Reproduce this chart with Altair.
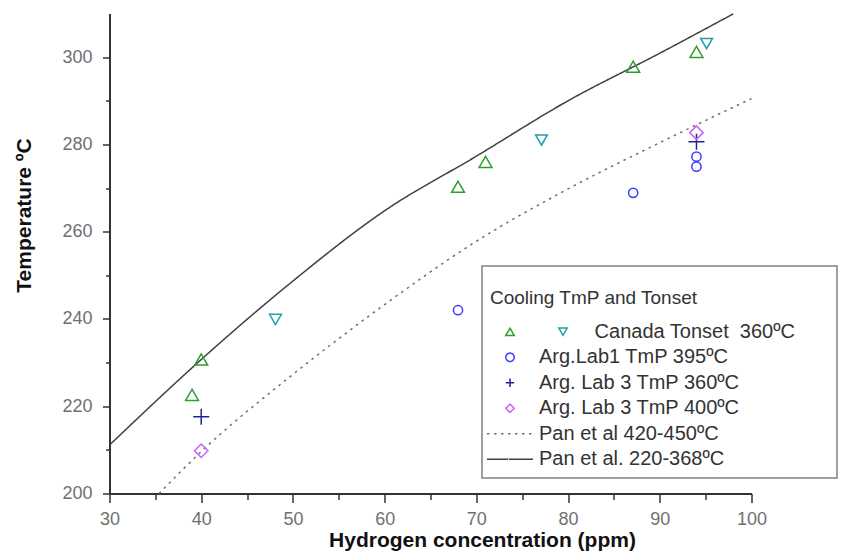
import altair as alt
import pandas as pd

# ---------------- data ----------------
nb = "\u00a0"
zw = "\u200b"  # keeps the padding from being trimmed
# legend text of the Canada entry (padded so that the second symbol fits before it)
canada_text = zw + nb * 10 + "Canada Tonset" + nb + " 360ºC" + nb * 6 + zw
series_names = [
    canada_text,
    "Arg.Lab1 TmP 395ºC",
    "Arg. Lab 3 TmP 360ºC",
    "Arg. Lab 3 TmP 400ºC",
    "Pan et al 420-450ºC",
    "Pan et al. 220-368ºC",
]
down_name = "Canada Tonset (down)"

canada_up_x = [39, 40, 68, 71, 87.1, 94]
canada_up_y = [222.6, 230.7, 270.3, 276, 297.8, 301.2]
canada_down_x = [48.1, 77.1, 95.1]
canada_down_y = [239.9, 281, 303.1]
lab1_x = [68, 87.1, 94, 94]
lab1_y = [242, 268.9, 277.2, 274.9]
lab3_360_x = [40, 94]
lab3_360_y = [217.6, 280.6]
lab3_400_x = [40, 94]
lab3_400_y = [209.8, 282.7]
pan_hi_x = [35.4, 40, 50, 60, 70, 80, 90, 100]
pan_hi_y = [200, 209.6, 227.3, 243.3, 257.8, 269.8, 280.4, 290.5]
pan_lo_x = [30, 40, 50, 60, 70, 80, 90, 98]
pan_lo_y = [211.1, 230.7, 248.7, 264.8, 277.3, 290.0, 300.9, 309.9]

x_ticks = list(range(30, 101, 5))
y_ticks = list(range(200, 301, 10))

# ---------------- styles ----------------
FONT = "Liberation Sans, Arial, Helvetica, sans-serif"
colors = ["#2e9e2e", "#3c3cff", "#20209c", "#c864f0", "#707070", "#404040"]
cyan = "#20a0a8"
PLUS = "M-1,0H1M0,-1V1"
LINE_SYM = "M-5.5,0H5.5"
shapes = ["triangle-up", "circle", PLUS, "diamond", LINE_SYM, LINE_SYM]
dashes = [[1, 0], [1, 0], [1, 0], [1, 0], [2.5, 4.5], [1, 0]]

def df(xs, ys, name):
    return pd.DataFrame({"x": xs, "y": ys, "series": name})

up_df = df(canada_up_x, canada_up_y, series_names[0])
lab1_df = df(lab1_x, lab1_y, series_names[1])
l360_df = df(lab3_360_x, lab3_360_y, series_names[2])
l400_df = df(lab3_400_x, lab3_400_y, series_names[3])
down_df = df(canada_down_x, canada_down_y, down_name)
lines_df = pd.concat([df(pan_hi_x, pan_hi_y, series_names[4]),
                      df(pan_lo_x, pan_lo_y, series_names[5])])

leg1 = alt.Legend(
    orient="none", legendX=372.5, legendY=252.5,
    title=["", "Cooling TmP and Tonset"], titleFont=FONT, titleFontSize=19,
    titleFontWeight="normal", titleColor="#333333", titleLineHeight=14.8,
    titlePadding=14, titleLimit=400,
    labelFont=FONT, labelFontSize=20, labelColor="#333333", labelLimit=440,
    labelOffset=19,
    symbolOffset=10, symbolSize=70, symbolStrokeWidth=1.5,
    symbolFillColor="transparent", rowPadding=5.5, padding=8,
    strokeColor="#808080",
)
leg2 = alt.Legend(
    orient="none", legendX=443.5, legendY=308.2, title=None,
    labelExpr="''", labelFontSize=20, padding=0, symbolSize=70,
    symbolStrokeWidth=1.5, symbolFillColor="transparent",
    symbolType="triangle-down",
)

color_scale = alt.Scale(domain=series_names, range=colors)
shape_scale = alt.Scale(domain=series_names, range=shapes)
dash_scale = alt.Scale(domain=series_names, range=dashes)

x_axis = alt.Axis(
    values=x_ticks, labelExpr="datum.value % 10 === 0 ? datum.label : ''",
    tickSize={"condition": {"test": "datum.value % 10 === 0", "value": 9}, "value": 6},
    title="Hydrogen concentration (ppm)", titleX=372.5, titleY=53,
    titleBaseline="alphabetic", titleAlign="center", titleFont=FONT,
    titleFontSize=21, titleFontWeight="bold", titleColor="#111111",
    labelFont=FONT, labelFontSize=18, labelColor="#707070", labelPadding=8,
    labelFlush=False, labelOverlap=False, domainColor="#333333", domainWidth=2,
    tickColor="#333333", tickWidth=1.5, grid=False,
)
y_axis = alt.Axis(
    values=y_ticks, labelExpr="datum.value % 20 === 0 ? datum.label : ''",
    tickSize={"condition": {"test": "datum.value % 20 === 0", "value": 7}, "value": 4},
    title="Temperature ºC", titleX=-79.5, titleY=201.5, titleAngle=-90,
    titleBaseline="alphabetic", titleAlign="center", titleFont=FONT,
    titleFontSize=21, titleFontWeight="bold", titleColor="#111111",
    labelFont=FONT, labelFontSize=18, labelColor="#707070", labelPadding=10.5,
    labelOverlap=False, domainColor="#333333", domainWidth=2,
    tickColor="#333333", tickWidth=1.5, grid=False,
)

X = alt.X("x:Q", scale=alt.Scale(domain=[30, 100], nice=False, zero=False), axis=x_axis)
Y = alt.Y("y:Q", scale=alt.Scale(domain=[200, 310], nice=False, zero=False), axis=y_axis)
C = alt.Color("series:N", scale=color_scale, legend=leg1)
S = alt.Shape("series:N", scale=shape_scale, legend=leg1)
D = alt.StrokeDash("series:N", scale=dash_scale, legend=leg1)

lines = alt.Chart(lines_df).mark_line(strokeWidth=1.5, interpolate="monotone").encode(
    x=X, y=Y, color=C, strokeDash=D)

def pts(data, size):
    return alt.Chart(data).mark_point(filled=False, size=size, strokeWidth=1.5, opacity=1).encode(
        x=X, y=Y, color=C, shape=S)

down = alt.Chart(down_df).mark_point(filled=False, size=140, strokeWidth=1.5, opacity=1,
                                     shape="triangle-down").encode(
    x=X, y=Y,
    stroke=alt.Stroke("series:N", scale=alt.Scale(domain=[down_name], range=[cyan]), legend=leg2))

chart = alt.layer(
    lines, pts(up_df, 165), down, pts(lab1_df, 85), pts(l360_df, 256), pts(l400_df, 180)
).properties(
    width=642, height=480,
    autosize="none",
    padding={"left": 109.5, "top": 13.5, "right": 90.5, "bottom": 59.5},
).configure_view(stroke=None).configure_legend(strokeWidth=1.5)

chart.save("out.html", embed_options={"renderer": "svg", "actions": False})
